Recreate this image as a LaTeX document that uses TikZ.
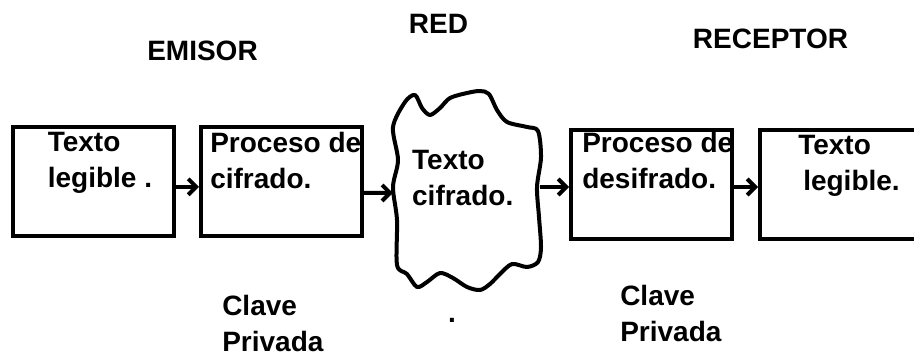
\documentclass[tikz,border=0pt]{standalone}
\usepackage{fontspec}
\setmainfont{Liberation Sans}
\usetikzlibrary{arrows.meta, positioning}

\tikzset{
  txt/.style={font=\fontsize{21}{27}\selectfont\bfseries, inner sep=0pt, align=left},
  box/.style={rectangle, draw, line width=3pt, minimum width=120.75pt, minimum height=81.75pt},
  lbl/.style={txt, anchor=north west},
  arr/.style={line width=3pt, -{Straight Barb[length=6pt, width=12pt]}}
}

\begin{document}
\begin{tikzpicture}[x=0.75pt, y=-0.75pt]
\useasboundingbox (0,0) rectangle (914,358);

% titulos
\node[txt] (emisor) at (202.5,51) {EMISOR};
\node[txt] (redlbl) at (438.5,24) {RED};
\node[txt] (receptor) at (770.5,39) {RECEPTOR};

% cajas
\node[box, label={[lbl, xshift=27.4pt, yshift=-5.25pt]north west:{Texto\\legible .}}] (txtin) at (93.5,181.5) {};
\node[box, label={[lbl, xshift=8.25pt, yshift=-5.25pt]north west:{Proceso de\\cifrado.}}] (enc) at (281.5,181.5) {};
\node[rectangle, minimum width=110pt, minimum height=150pt, label={[lbl, xshift=14.25pt, yshift=-45pt]north west:{Texto\\cifrado.}}] (net) at (466.5,190) {};
\node[box, label={[lbl, xshift=9.75pt, yshift=-3pt]north west:{Proceso de\\desifrado.}}] (dec) at (651.5,184) {};
\node[box, label={[lbl, xshift=30pt, yshift=-5.25pt]north west:{Texto\\\hspace*{3.75pt}legible.}}] (txtout) at (840.5,184) {};

% nube de la red
\draw[line width=3pt, line join=round] plot[smooth cycle, tension=0.5] coordinates {
  (393,127) (405,102) (415,95) (422,108) (430,115) (440,108) (450,98) (467,93)
  (480,91) (489,94) (497,110) (507,122) (527,127) (538,131)
  (541,157) (537,187) (539,217) (541,247) (538,262)
  (527,267) (512,264) (500,274) (490,284) (480,290) (467,287) (453,278)
  (440,273) (427,282) (417,287) (407,274) (397,265)
  (397,220) (393,187) (398,160)};

% flechas
\draw[arr] ([yshift=-4pt]txtin.east) -- ([yshift=-4pt]enc.west);
\draw[arr] ([yshift=-8.6pt]enc.east) -- ([yshift=-2.25pt]net.west);
\draw[arr] ([yshift=2.25pt]net.east) -- ([yshift=-2.25pt]dec.west);
\draw[arr] ([yshift=-2.25pt]dec.east) -- ([yshift=-2.25pt]txtout.west);

% claves
\node[lbl] (key1) at (222,295) {Clave\\Privada};
\node[lbl] (key2) at (620,285) {Clave\\Privada};
\node[txt] (dot) at (452,320) {.};
\end{tikzpicture}
\end{document}
